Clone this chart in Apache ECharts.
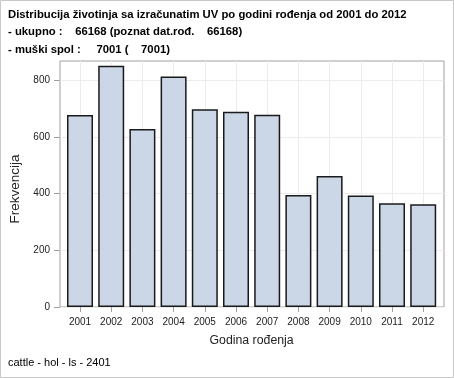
<!DOCTYPE html>
<html>
<head>
<meta charset="utf-8">
<script src="https://cdn.jsdelivr.net/npm/echarts@6/dist/echarts.min.js"></script>
<style>
  html, body { margin: 0; padding: 0; background: #fff; }
  #chart { width: 454px; height: 378px; }
</style>
</head>
<body>
<div id="chart"></div>
<script>
const years = ['2001', '2002', '2003', '2004', '2005', '2006', '2007', '2008', '2009', '2010', '2011', '2012']
const counts = [677, 850, 627, 812, 697, 688, 678, 395, 462, 393, 366, 362]
const yTicks = [0, 200, 400, 600, 800]

const titleText = [
  'Distribucija životinja sa izračunatim UV po godini rođenja od 2001 do 2012',
  '- ukupno :    66168 (poznat dat.rođ.    66168)',
  '- muški spol :     7001 (    7001)',
].join('\n')

const font = '"Liberation Sans", Arial, sans-serif'
const yMax = 867

const chart = echarts.init(document.getElementById('chart'), null, { renderer: 'canvas' })
chart.setOption({
  animation: false,
  textStyle: { fontFamily: font },
  title: [
    {
      text: titleText,
      left: 3,
      top: 1,
      textStyle: { fontFamily: font, fontSize: 11.3, fontWeight: 'bold', color: '#000', lineHeight: 17.5 },
    },
    {
      text: 'cattle - hol - ls - 2401',
      left: 3,
      top: 352,
      textStyle: { fontFamily: font, fontSize: 11, fontWeight: 'normal', color: '#000' },
    },
  ],
  graphic: [
    {
      type: 'rect',
      shape: { x: 0.5, y: 0.5, width: 453, height: 377 },
      style: { fill: 'none', stroke: '#c8c8c8', lineWidth: 1 },
      silent: true,
    },
  ],
  grid: [
    { left: 60, right: 10, top: 61, bottom: 71, show: true, borderColor: '#a0a0a0', borderWidth: 1, backgroundColor: 'transparent' },
    { left: 64.4, right: 15.2, top: 61, bottom: 71 },
  ],
  xAxis: [
    { gridIndex: 0, type: 'value', min: 0, max: 1, show: false },
    {
      gridIndex: 1,
      type: 'category',
      data: years,
      axisLine: { show: false },
      axisTick: { show: true, alignWithLabel: true, interval: 0, length: 5, lineStyle: { color: '#a0a0a0' } },
      axisLabel: { fontSize: 10, interval: 0, color: '#222', margin: 10, fontFamily: font },
      splitLine: { show: true, alignWithLabel: true, interval: 0, lineStyle: { color: '#ececec' } },
      name: 'Godina rođenja',
      nameLocation: 'middle',
      nameGap: 28,
      nameTextStyle: { fontSize: 12.3, color: '#222', fontFamily: font },
    },
  ],
  yAxis: [
    {
      gridIndex: 0,
      type: 'value',
      min: 0,
      max: yMax,
      interval: 200,
      axisLine: { show: false },
      axisTick: { show: true, length: 6, lineStyle: { color: '#a0a0a0' }, customValues: yTicks },
      axisLabel: { fontSize: 10, color: '#222', margin: 10, fontFamily: font, customValues: yTicks },
      splitLine: { show: true, lineStyle: { color: '#ececec' } },
      name: 'Frekvencija',
      nameLocation: 'middle',
      nameGap: 37,
      nameTextStyle: { fontSize: 13.5, color: '#222', fontFamily: font, padding: [0, 10, 0, 0] },
    },
    { gridIndex: 1, type: 'value', min: 0, max: yMax, show: false },
  ],
  series: [
    {
      type: 'bar',
      xAxisIndex: 1,
      yAxisIndex: 1,
      data: counts,
      barWidth: 26,
      itemStyle: { color: '#cbd6e6', borderColor: '#1a1a1a', borderWidth: 1.5 },
    },
  ],
})
</script>
</body>
</html>
